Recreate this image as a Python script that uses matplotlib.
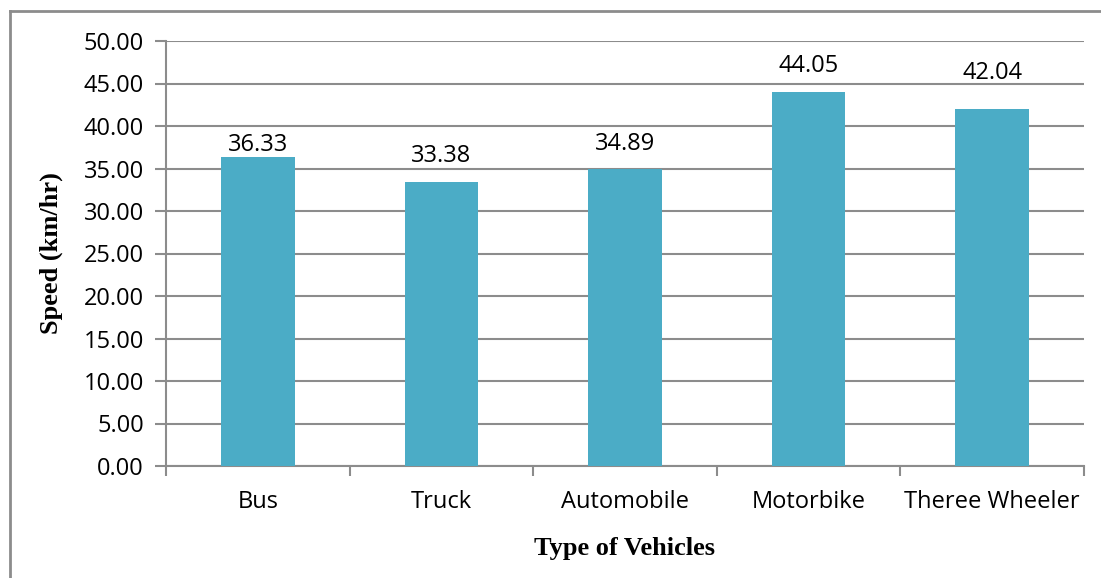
import matplotlib.pyplot as plt
from matplotlib.lines import Line2D

# Data
vehicles = ["Bus", "Truck", "Automobile", "Motorbike", "Theree Wheeler"]
speeds = [36.33, 33.38, 34.89, 44.05, 42.04]
yticks = [0, 5, 10, 15, 20, 25, 30, 35, 40, 45, 50]

# gap (points) between each bar top and its data label, as placed in the original
label_gap = [0, 10, 10, 10, 17]

bar_color = "#4BACC6"
grid_color = "#8C8C8C"
tick_font = "Open Sans"
label_font = "Liberation Serif"

fig = plt.figure(figsize=(11.01, 5.78), dpi=100)
ax = fig.add_axes([166 / 1101, 1 - 466 / 578, (1084 - 166) / 1101, (466 - 41) / 578])

x = list(range(len(vehicles)))
ax.bar(x, speeds, width=0.4, color=bar_color, zorder=3)

for xi, v, g in zip(x, speeds, label_gap):
    ax.annotate(f"{v:.2f}", (xi, v), xytext=(0, g), textcoords="offset points",
                ha="center", va="bottom", fontsize=17, family=tick_font, zorder=4)

ax.set_xlim(-0.5, len(vehicles) - 0.5)
ax.set_ylim(0, 50)
ax.set_yticks(yticks)
ax.set_yticklabels([f"{t:.2f}" for t in yticks], fontsize=17, family=tick_font)
ax.yaxis.grid(True, color=grid_color, linewidth=1.5, zorder=0)

# category boundary ticks on x axis
ax.set_xticks([i - 0.5 for i in range(len(vehicles) + 1)])
ax.set_xticklabels([])
ax.set_xticks(x, minor=True)
ax.set_xticklabels(vehicles, minor=True, fontsize=17, family=tick_font)
ax.tick_params(axis="x", which="minor", length=0, pad=17)
ax.tick_params(axis="x", which="major", length=7, width=1.5, color=grid_color)
ax.tick_params(axis="y", length=8, width=1.5, color=grid_color, pad=8)

for side in ["top", "right"]:
    ax.spines[side].set_visible(False)
for side in ["left", "bottom"]:
    ax.spines[side].set_color(grid_color)
    ax.spines[side].set_linewidth(1.5)

ax.set_xlabel("Type of Vehicles", fontsize=19, fontweight="bold",
              family=label_font, labelpad=17)
ax.set_ylabel("Speed (km/hr)", fontsize=19, fontweight="bold",
              family=label_font, labelpad=15)

# outer frame (left and top edges only visible)
fig.add_artist(Line2D([10 / 1101, 10 / 1101], [0, 1 - 11 / 578],
                      color="#8C8C8C", linewidth=2, transform=fig.transFigure))
fig.add_artist(Line2D([10 / 1101, 1], [1 - 11 / 578, 1 - 11 / 578],
                      color="#8C8C8C", linewidth=2, transform=fig.transFigure))

fig.savefig("out.png", dpi=100)
